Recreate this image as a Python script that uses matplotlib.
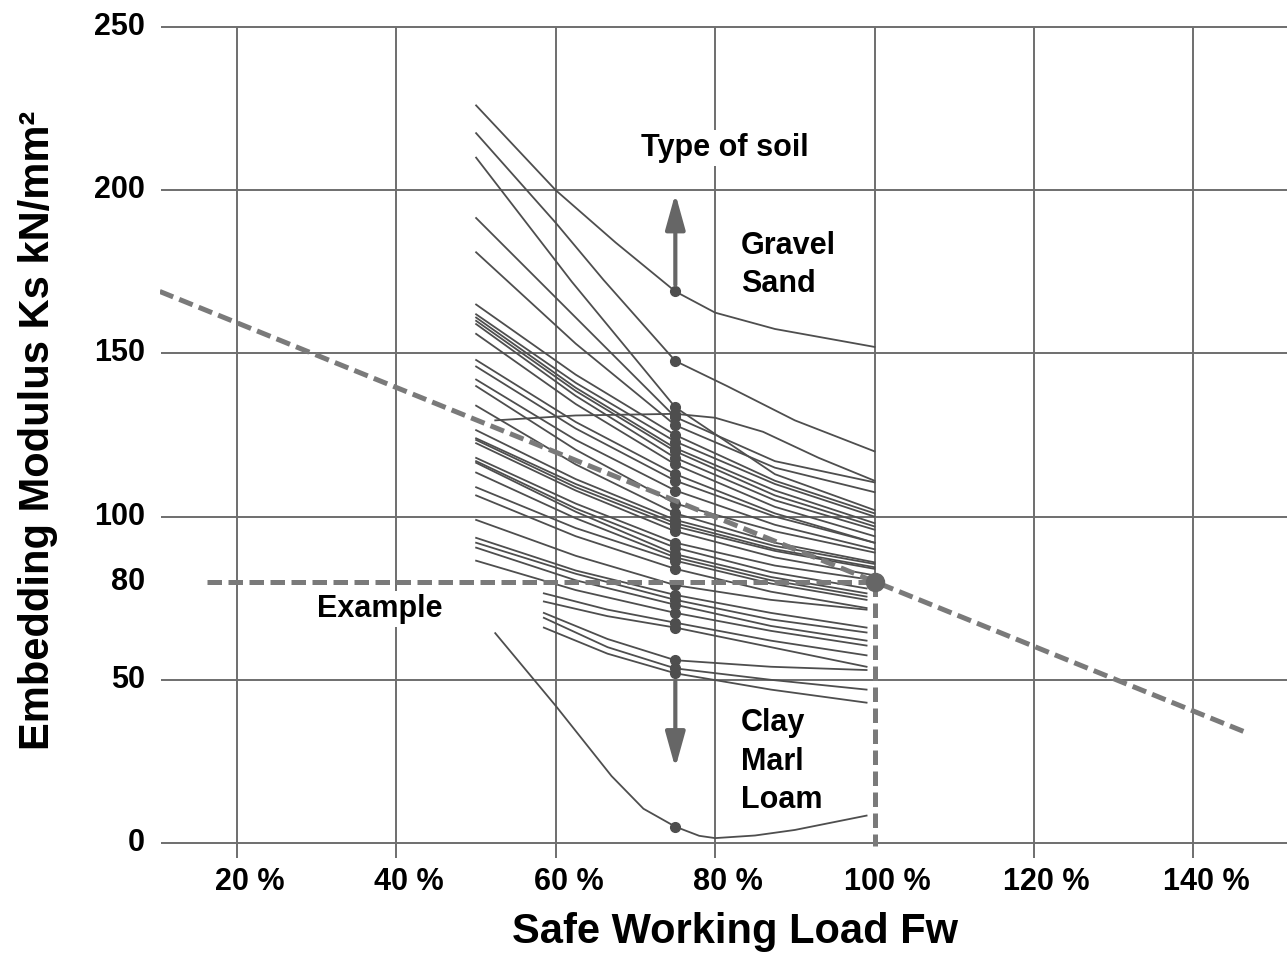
import numpy as np
import matplotlib.pyplot as plt

plt.rcParams['font.family'] = ['Liberation Sans', 'DejaVu Sans']
plt.rcParams['font.weight'] = 'bold'

# axis values
y_ticks = [0, 50, 80, 100, 150, 200, 250]
grid_y = [0, 50, 100, 150, 200, 250]
x_ticks = [20, 40, 60, 80, 100, 120, 140]
x_tick_labels = ['20 %', '40 %', '60 %', '80 %', '100 %', '120 %', '140 %']

# x positions the curves are read at
x_main = [50, 62.5, 75, 87.5, 100]
x_low = [50, 62.5, 75, 87, 99]
x_late = [58.5, 66.5, 75, 87, 99]

# upper curves (gravel / sand side), each with its own read positions
x_top1 = [50, 60, 67.5, 75, 80, 87.5, 100]
top1 = [226, 200, 184, 169, 162.5, 157.5, 152]
x_top2 = [50, 60, 66, 75, 81.5, 90, 100]
top2 = [217.5, 190, 172.5, 147.7, 140, 129.5, 120]
x_top3 = [50, 62, 75, 87.5, 100]
top3 = [210, 172, 133.5, 113, 102]
top_rest = [
    [191.5, 161, 130.5, 117, 110.5],
    [181, 153, 128, 115, 107.5],
]
x_flat = [52.4, 62.5, 75, 80, 86, 93, 100]
flat_curve = [129.5, 131, 131.5, 130.3, 126, 118, 111]

# main bundle, ending at or above 80
bundle_hi = [
    [165, 143.5, 125, 111, 101],
    [162, 141, 123, 110, 100],
    [161, 139.5, 121, 108, 98],
    [160, 138.5, 120, 106.5, 97],
    [159, 137, 118, 105, 96],
    [156, 134.5, 116, 103, 94],
    [148, 129, 113, 101, 92],
    [146, 127, 111, 100, 92],
    [142, 123.5, 108, 97.5, 90],
    [140, 120.5, 104, 95.5, 89],
    [134, 116, 101, 92, 86],
    [126.5, 111.5, 99, 91, 85.5],
    [124, 110, 98, 90, 84.5],
    [123.5, 109, 97, 89.5, 84],
    [122.5, 108, 95.5, 87.5, 82],
    [118, 104, 92, 85, 80.5],
]
# main bundle, ending below 80
bundle_lo = [
    [117, 102.5, 90.5, 83, 78],
    [116.5, 101.5, 88.5, 81.5, 76.5],
    [113.5, 99.5, 87.5, 80.5, 75.5],
    [109, 96.5, 86.5, 79.5, 74.5],
    [106.5, 94, 84, 77, 72],
    [99, 88, 79, 74.5, 71.5],
    [93.5, 83.5, 76, 70.5, 66],
    [92, 82.5, 74.5, 68.5, 64.5],
    [90.5, 80.5, 73, 66.5, 62],
    [86.5, 77.5, 70.5, 65, 60.5],
]
# curves starting later (clay / marl side)
late_curves = [
    [76.5, 71.5, 67.5, 62, 57.5],
    [74, 69.5, 66, 60, 54],
    [70.5, 62.5, 56, 54, 53],
    [69, 60, 53.5, 50, 47],
    [66, 58, 52, 47, 43],
]
x_bottom = [52.4, 60, 67, 71, 75, 78, 80, 85, 90, 99]
bottom_curve = [64.3, 42, 20.5, 10.5, 5, 2.2, 1.5, 2.3, 4, 8.4]

# example construction
ex_diag_x = [10.3, 146.8]
ex_diag_y = [169, 33.7]
ex_h_x = [16.2, 100]
ex_h_y = [80, 80]
ex_v_x = [100, 100]
ex_v_y = [80, -1]

line_c = '#4e4e4e'
grid_c = '#6e6e6e'
dash_c = '#7a7a7a'

fig = plt.figure(figsize=(12.87, 9.55), dpi=100)
ax = fig.add_axes([160 / 1287, 90 / 955, 1127 / 1287, 865 / 955])
ax.set_xlim(10.33, 151.76)
ax.set_ylim(-6.74, 258.3)
ax.axis('off')

# grid
ax.hlines(grid_y, 10.4, 151.7, color=grid_c, lw=1.4, zorder=1)
ax.vlines([20, 40, 60, 80, 120, 140], -4.5, 250, color=grid_c, lw=1.4, zorder=1)
ax.vlines(100, 80, 250, color=grid_c, lw=1.4, zorder=1)


def draw(xs, ys):
    # dot where the curve crosses 75 %
    ax.plot(xs, ys, color=line_c, lw=1.3, zorder=3, solid_joinstyle='round',
            marker='o', markevery=[xs.index(75)], ms=7, mfc=line_c, mec=line_c)


draw(x_top1, top1)
draw(x_top2, top2)
draw(x_top3, top3)
for c in top_rest:
    draw(x_main, c)
draw(x_flat, flat_curve)
for c in bundle_hi:
    draw(x_main, c)
for c in bundle_lo:
    draw(x_low, c)
for c in late_curves:
    draw(x_late, c)
draw(x_bottom, bottom_curve)

# dashed example lines
dash = (0, (2.9, 1.3))
ax.plot(ex_diag_x, ex_diag_y, color=dash_c, lw=3.6, ls=dash, zorder=4)
ax.plot(ex_h_x, ex_h_y, color=dash_c, lw=3.6, ls=dash, zorder=4)
ax.plot(ex_v_x, ex_v_y, color=dash_c, lw=3.6, ls=dash, zorder=4)
ax.plot([100], [80], 'o', color='#666666', ms=13, zorder=5)

# arrows
arr = dict(arrowstyle='-|>,head_length=0.9,head_width=0.25', color='#666666',
           lw=3, mutation_scale=24, shrinkA=0, shrinkB=0)
ax.annotate('', xy=(75, 199), xytext=(75, 171), arrowprops=arr, zorder=5)
ax.annotate('', xy=(75, 23), xytext=(75, 49.5), arrowprops=arr, zorder=5)

# labels inside the chart
fs = 22
white = dict(facecolor='white', edgecolor='none', pad=2)
ax.text(81.25, 213, 'Type of soil', fontsize=fs, ha='center', va='center', bbox=white, zorder=6)
ax.text(83.2, 183, 'Gravel', fontsize=fs, ha='left', va='center', zorder=6)
ax.text(83.2, 171.3, 'Sand', fontsize=fs, ha='left', va='center', zorder=6)
ax.text(83.2, 36.8, 'Clay', fontsize=fs, ha='left', va='center', zorder=6)
ax.text(83.2, 24.8, 'Marl', fontsize=fs, ha='left', va='center', zorder=6)
ax.text(83.2, 13.2, 'Loam', fontsize=fs, ha='left', va='center', zorder=6)
ax.text(37.9, 71.7, 'Example', fontsize=fs, ha='center', va='center', bbox=white, zorder=6)

# tick labels
for v in y_ticks:
    ax.text(8.45, v, str(v), fontsize=fs, ha='right', va='center')
for v, lab in zip(x_ticks, x_tick_labels):
    ax.text(v + 1.6, -12, lab, fontsize=fs, ha='center', va='center')

fig.text(735 / 1287, 1 - 932 / 955, 'Safe Working Load Fw', fontsize=30,
         ha='center', va='center')
fig.text(38 / 1287, 1 - 430 / 955, 'Embedding Modulus Ks kN/mm²', fontsize=30,
         ha='center', va='center', rotation=90)

fig.savefig('out.png', dpi=100, facecolor='white')
